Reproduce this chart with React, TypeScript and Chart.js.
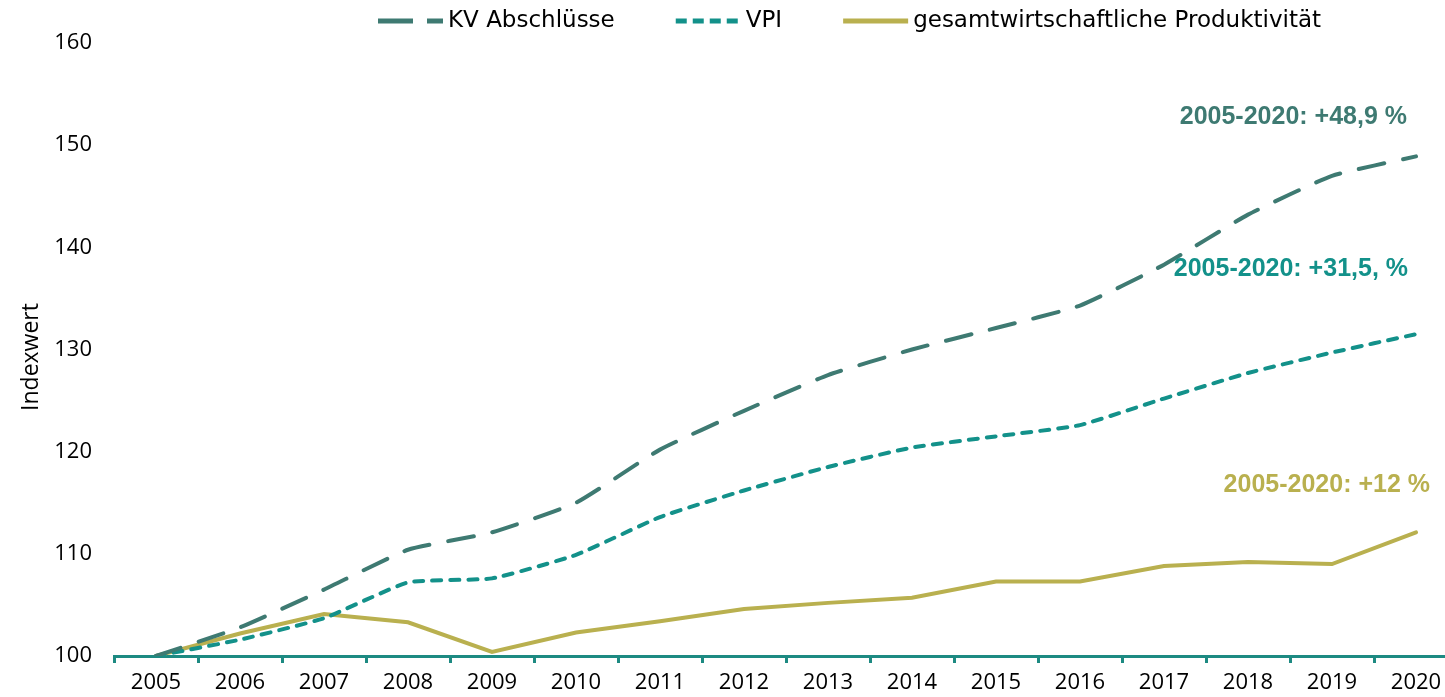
import React, { useEffect, useRef } from "react";
import { Chart, registerables } from "chart.js";

Chart.register(...registerables);

const years = ["2005","2006","2007","2008","2009","2010","2011","2012","2013","2014","2015","2016","2017","2018","2019","2020"];
const kvAbschluesse = [100, 102.8, 106.5, 110.4, 112.1, 115, 120.2, 124, 127.5, 130, 132.1, 134.3, 138.3, 143.2, 147, 148.9];
const vpi = [100, 101.6, 103.7, 107.2, 107.6, 109.9, 113.6, 116.2, 118.5, 120.4, 121.5, 122.6, 125.2, 127.7, 129.7, 131.5];
const produktivitaet = [100, 102.2, 104.1, 103.3, 100.4, 102.3, 103.4, 104.6, 105.2, 105.7, 107.3, 107.3, 108.8, 109.2, 109, 112.1];
const seriesNames = ["KV Abschlüsse", "VPI", "gesamtwirtschaftliche Produktivität"];
const annotationTexts = ["2005-2020: +48,9 %", "2005-2020: +31,5, %", "2005-2020: +12 %"];
const annotationValues = [152.7, 137.9, 116.7];
const yAxisTitle = "Indexwert";

const colors = ["#3e7a72", "#13918a", "#b9b04f"];
const legendDashes = [[35, 14], [11, 6], []];
const annotationDx = [-9, -8, 14];

const overlayPlugin = {
  id: "overlay",
  afterDraw(chart: any) {
    const { ctx, scales } = chart;
    ctx.save();
    // end labels
    const x = scales.x.getPixelForValue(15);
    ctx.font = "bold 25px 'Liberation Sans', Arial, sans-serif";
    ctx.textAlign = "right";
    ctx.textBaseline = "middle";
    annotationTexts.forEach((t, i) => {
      ctx.fillStyle = colors[i];
      ctx.fillText(t, x + annotationDx[i], scales.y.getPixelForValue(annotationValues[i]));
    });
    // y title
    ctx.save();
    ctx.translate(31, 357);
    ctx.rotate(-Math.PI / 2);
    ctx.font = "23px 'Open Sans', sans-serif";
    ctx.fillStyle = "#000";
    ctx.textAlign = "center";
    ctx.textBaseline = "middle";
    ctx.fillText(yAxisTitle, 0, 0);
    ctx.restore();
    // legend
    ctx.font = "23px 'DejaVu Sans', sans-serif";
    ctx.textAlign = "left";
    ctx.textBaseline = "middle";
    let lx = 378;
    const ly = 21;
    seriesNames.forEach((name, i) => {
      ctx.beginPath();
      ctx.setLineDash(legendDashes[i]);
      ctx.lineCap = "butt";
      ctx.lineWidth = 5;
      ctx.strokeStyle = colors[i];
      ctx.moveTo(lx, ly);
      ctx.lineTo(lx + 65, ly);
      ctx.stroke();
      ctx.setLineDash([]);
      ctx.fillStyle = "#000";
      ctx.fillText(name, lx + 70, ly);
      lx += 70 + ctx.measureText(name).width + 61;
    });
    ctx.restore();
  },
};

export default function App() {
  const ref = useRef<HTMLCanvasElement>(null);
  useEffect(() => {
    if (!ref.current) return;
    const mk = (label: string, data: number[], i: number, dash: number[], tension: number) => ({
      label,
      data,
      borderColor: colors[i],
      backgroundColor: colors[i],
      borderWidth: 4,
      borderDash: dash,
      borderCapStyle: "round" as const,
      pointRadius: 0,
      tension,
    });
    const chart = new Chart(ref.current, {
      type: "line",
      data: {
        labels: years,
        datasets: [
          mk(seriesNames[0], kvAbschluesse, 0, [26, 19], 0.15),
          mk(seriesNames[1], vpi, 1, [9, 9], 0.15),
          mk(seriesNames[2], produktivitaet, 2, [], 0),
        ],
      },
      options: {
        animation: false,
        responsive: true,
        maintainAspectRatio: false,
        layout: { padding: { left: 0, right: 0, top: 43, bottom: 0 } },
        plugins: {
          legend: { display: false },
          tooltip: { enabled: false },
        },
        scales: {
          x: {
            offset: true,
            grid: {
              offset: true,
              drawOnChartArea: false,
              drawTicks: true,
              tickLength: 7,
              color: "#1d8a82",
              lineWidth: 3,
            },
            border: { display: true, color: "#1d8a82", width: 3 },
            ticks: {
              color: "#000",
              padding: 7,
              maxRotation: 0,
              autoSkip: false,
              font: { family: "'Open Sans', sans-serif", size: 22 },
            },
            afterFit(scale: any) { scale.height = 41; },
          },
          y: {
            min: 100,
            max: 160,
            grid: { display: false, drawTicks: false },
            border: { display: false },
            ticks: {
              stepSize: 10,
              color: "#000",
              padding: 22,
              font: { family: "'Open Sans', sans-serif", size: 22 },
            },
            afterFit(scale: any) { scale.width = 114; },
          },
        },
      },
      plugins: [overlayPlugin],
    });
    return () => chart.destroy();
  }, []);
  return (
    <div style={{ position: "absolute", left: 0, top: 0, width: 1445, height: 697, overflow: "hidden", background: "#fff" }}>
      <div style={{ position: "relative", width: 1458, height: 697 }}>
        <canvas ref={ref} />
      </div>
    </div>
  );
}
